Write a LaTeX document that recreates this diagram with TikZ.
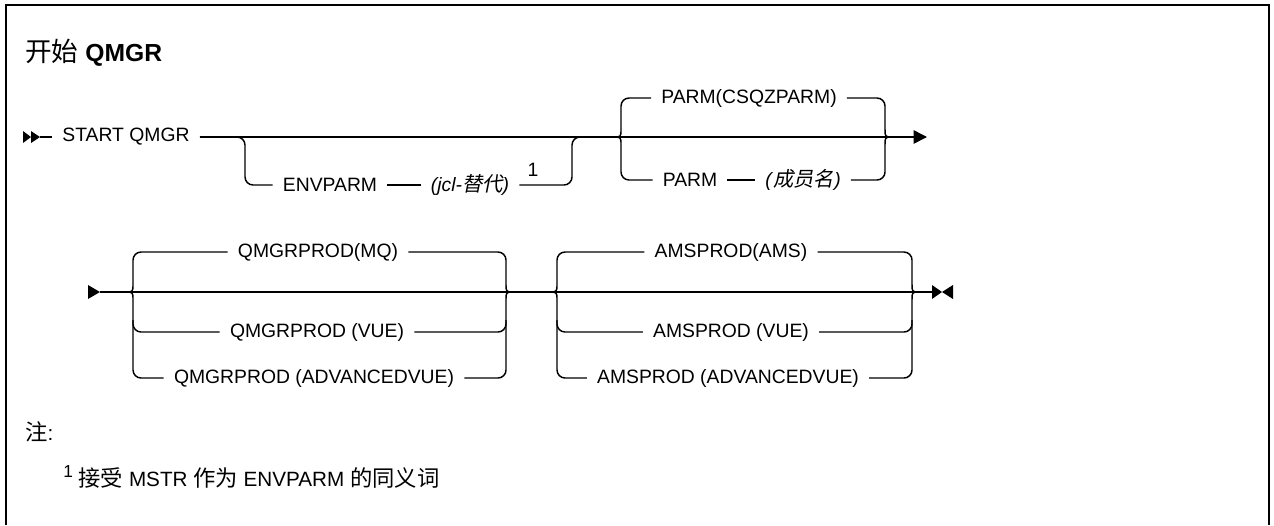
\documentclass[tikz,border=0pt]{standalone}
\usepackage{fontspec}
\setmainfont{Liberation Sans}
\newfontfamily\cjk[Scale=1.08]{Noto Sans CJK SC}
\newfontfamily\cjkit[Scale=1.05,FakeSlant=0.2]{Noto Sans CJK SC}
\usetikzlibrary{arrows.meta}
\begin{document}
\begin{tikzpicture}[x=0.75pt,y=-0.75pt,
  every node/.style={font=\fontsize{14.5}{17}\selectfont,inner sep=0pt},
  rr/.style={inner xsep=7.5pt},
  track/.style={line width=1.1pt,rounded corners=6pt},
  brace/.style={line width=1.1pt}]
\useasboundingbox (0,0) rectangle (1274,525);
% frame
\draw[line width=2.2pt] (6,525) -- (6,5) -- (1269,5) -- (1269,525);
\node[anchor=west] (title) at (25,53) {\fontsize{18.5}{22}\selectfont{\cjk 开始} \textbf{QMGR}};

% first line
\fill (23,131) -- (31,137) -- (23,143) -- cycle;
\fill (31,131) -- (40,137) -- (31,143) -- cycle;
\coordinate (s0) at (40,137);
\node[rr] (start) at (126,137) {START QMGR};
\coordinate (pL) at (613,137);
\coordinate (pR) at (893,137);
\coordinate (r1end) at (927,137);
\draw[track] (s0) -- (start.west);
\draw[track,-{Triangle[length=10pt,width=10pt]}] (start.east) -- (r1end);

% optional ENVPARM
\node[rr] (env) at (330,185) {ENVPARM};
\node[rr] (jcl) at (470,185) {\textit{(jcl-}{\cjkit 替代}\textit{)}};
\node (fn) at (533,170) {1};
\coordinate (eL) at (245,185);
\coordinate (eR) at (572,185);
\draw[track] (start.east) -| (eL) -- (env.west);
\draw[track] (env.east) -- (jcl.west);
\draw[track] (jcl.east) -- (eR) |- (pL);

% PARM choice
\node[rr] (parm1) at (749,98) {PARM(CSQZPARM)};
\node[rr] (parm2) at (690,180) {PARM};
\node[rr] (memb) at (803,180) {\textit{(}{\cjkit 成员名}\textit{)}};
\draw[track] (parm1.west) -| (621,129);
\draw[brace] (621,129) .. controls (621,137) .. (pL) .. controls (621,137) .. (621,145);
\draw[track] (621,145) |- (parm2.west);
\draw[track] (parm2.east) -- (memb.west);
\draw[track] (parm1.east) -| (885,129);
\draw[brace] (885,129) .. controls (885,137) .. (pR) .. controls (885,137) .. (885,145);
\draw[track] (885,145) |- (memb.east);

% second line
\fill (88,285) -- (100,292) -- (88,299) -- cycle;
\coordinate (q0) at (100,292);
\coordinate (qL) at (125,292);
\coordinate (qR) at (514,292);
\coordinate (aL) at (548,292);
\coordinate (aR) at (920,292);
\coordinate (r2end) at (932,292);
\draw[track] (q0) -- (qL) -- (qR) -- (aL) -- (aR) -- (r2end);
\fill (932,285) -- (942,292) -- (932,299) -- cycle;
\fill (953,285) -- (942,292) -- (953,299) -- cycle;

% QMGRPROD choice
\node[rr] (qm1) at (318,252) {QMGRPROD(MQ)};
\node[rr] (qm2) at (317,332) {QMGRPROD (VUE)};
\node[rr] (qm3) at (314,378) {QMGRPROD (ADVANCEDVUE)};
\draw[track] (qm1.west) -| (133,284);
\draw[brace] (133,284) .. controls (133,292) .. (qL) .. controls (133,292) .. (133,300);
\draw[track] (133,300) |- (qm2.west);
\draw[track] (133,320) |- (qm3.west);
\draw[track] (qm1.east) -| (506,284);
\draw[brace] (506,284) .. controls (506,292) .. (qR) .. controls (506,292) .. (506,300);
\draw[track] (506,300) |- (qm2.east);
\draw[track] (506,320) |- (qm3.east);

% AMSPROD choice
\node[rr] (am1) at (731,252) {AMSPROD(AMS)};
\node[rr] (am2) at (731,332) {AMSPROD (VUE)};
\node[rr] (am3) at (728,378) {AMSPROD (ADVANCEDVUE)};
\draw[track] (am1.west) -| (557,284);
\draw[brace] (557,284) .. controls (557,292) .. (aL) .. controls (557,292) .. (557,300);
\draw[track] (557,300) |- (am2.west);
\draw[track] (557,320) |- (am3.west);
\draw[track] (am1.east) -| (912,284);
\draw[brace] (912,284) .. controls (912,292) .. (aR) .. controls (912,292) .. (912,300);
\draw[track] (912,300) |- (am2.east);
\draw[track] (912,320) |- (am3.east);

% notes
\node[anchor=west] (notes) at (25,432) {\fontsize{15.5}{18}\selectfont{\cjk 注}:};
\node[anchor=west] (note1) at (63,477) {\fontsize{15.5}{18}\selectfont\raisebox{0.45em}{\fontsize{13}{15}\selectfont 1} {\cjk 接受} MSTR {\cjk 作为} ENVPARM {\cjk 的同义词}};
\end{tikzpicture}
\end{document}
